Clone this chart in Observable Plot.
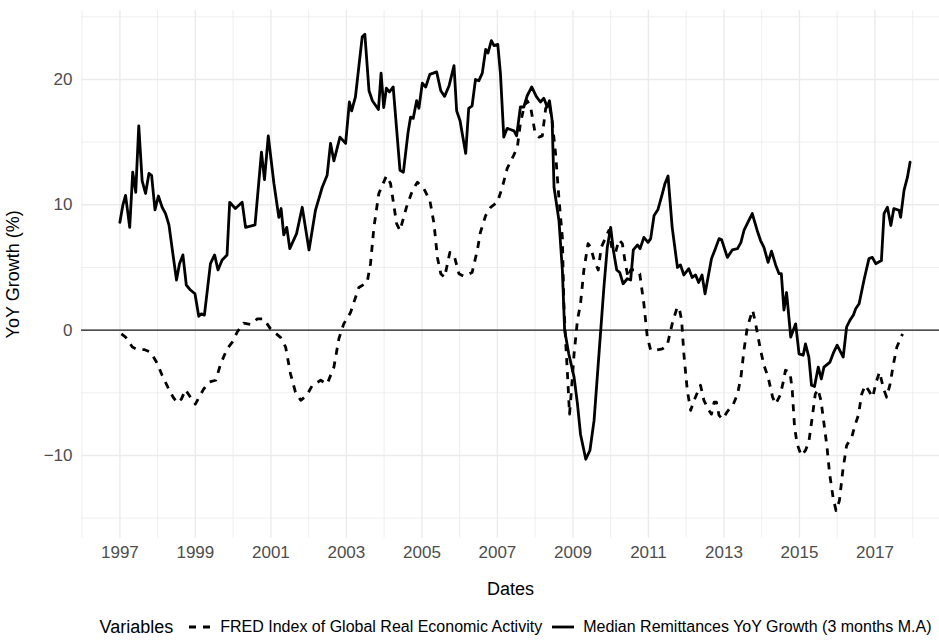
<!DOCTYPE html>
<html>
<head>
<meta charset="utf-8">
<script src="https://cdn.jsdelivr.net/npm/d3@7"></script>
<script src="https://cdn.jsdelivr.net/npm/@observablehq/plot@0.6"></script>
<style>
  html, body { margin: 0; padding: 0; background: #fff; overflow: hidden; }
  body { font-family: "Liberation Sans", Arial, Helvetica, sans-serif; }
  #legend { width: 939px; height: 43px; box-sizing: border-box; padding-left: 92px; padding-top: 16px;
            display: flex; justify-content: center; align-items: flex-start; color: #000; }
  #legend .title { font-size: 18px; margin-right: 16px; line-height: 22px; }
  #legend .item { display: flex; align-items: center; font-size: 16px; line-height: 22px; }
  #legend .item svg { margin-right: 9px; }
  #legend .item + .item { margin-left: 10px; }
</style>
</head>
<body>
<div id="chart"></div>
<div id="legend"></div>
<script>
// ---- Data (decimal years, % values) ----
const remitYears = [
  1997.00,1997.08,1997.15,1997.26,1997.34,1997.42,1997.50,1997.59,1997.68,1997.77,1997.84,1997.93,
  1998.02,1998.12,1998.21,1998.30,1998.39,1998.50,1998.58,1998.67,1998.76,1998.87,1998.99,
  1999.09,1999.16,1999.24,1999.40,1999.51,1999.60,1999.71,1999.84,1999.91,
  2000.06,2000.24,2000.33,2000.46,2000.58,2000.75,2000.83,2000.93,
  2001.08,2001.21,2001.27,2001.34,2001.42,2001.50,2001.68,2001.83,
  2002.01,2002.18,2002.36,2002.49,2002.58,2002.67,2002.83,2002.98,
  2003.08,2003.14,2003.24,2003.33,2003.42,2003.49,2003.60,2003.69,2003.85,2003.92,2003.99,
  2004.06,2004.14,2004.24,2004.42,2004.51,2004.63,2004.70,2004.77,2004.86,2004.92,
  2005.01,2005.10,2005.21,2005.39,2005.50,2005.60,2005.72,2005.85,2005.92,
  2006.01,2006.16,2006.24,2006.33,2006.42,2006.51,2006.60,2006.69,2006.75,2006.84,2006.91,
  2007.01,2007.08,2007.17,2007.26,2007.44,2007.51,2007.61,2007.70,2007.79,2007.91,
  2008.03,2008.14,2008.23,2008.32,2008.38,2008.45,2008.50,2008.63,2008.72,2008.78,2008.89,
  2009.03,2009.12,2009.20,2009.34,2009.45,2009.56,2009.69,2009.82,2009.91,
  2010.00,2010.07,2010.16,2010.24,2010.33,2010.44,2010.53,2010.60,2010.71,2010.78,2010.88,2010.99,
  2011.06,2011.15,2011.25,2011.37,2011.44,2011.52,2011.63,2011.77,2011.85,2011.94,
  2012.07,2012.16,2012.25,2012.33,2012.42,2012.50,2012.67,2012.76,2012.87,2012.94,
  2013.09,2013.22,2013.36,2013.45,2013.53,2013.66,2013.75,2013.88,2013.97,
  2014.06,2014.17,2014.26,2014.37,2014.46,2014.52,2014.59,2014.66,2014.77,2014.90,2014.99,
  2015.10,2015.16,2015.25,2015.32,2015.40,2015.50,2015.58,2015.65,2015.81,2015.91,
  2016.00,2016.16,2016.25,2016.34,2016.43,2016.49,2016.58,2016.71,2016.84,2016.93,
  2017.02,2017.17,2017.24,2017.33,2017.42,2017.50,2017.64,2017.68,2017.77,2017.86,2017.93
];
const remitValues = [
  8.6,10.0,10.75,8.2,12.6,11.0,16.3,11.9,10.9,12.5,12.35,9.6,
  10.7,9.8,9.3,8.4,6.4,4.0,5.3,6.0,3.6,3.2,2.9,
  1.1,1.3,1.2,5.3,6.0,4.8,5.6,6.0,10.2,
  9.7,10.2,8.2,8.3,8.4,14.2,12.0,15.5,
  11.7,9.0,9.7,7.6,8.2,6.5,7.7,9.8,
  6.4,9.55,11.4,12.35,14.9,13.5,15.4,14.9,
  18.2,17.5,18.6,21.0,23.4,23.6,19.1,18.3,17.6,20.5,17.75,
  19.3,19.0,19.4,12.75,12.6,15.7,17.0,16.9,18.3,17.7,
  19.7,19.4,20.4,20.6,19.1,18.65,19.5,21.1,17.5,
  16.7,14.1,17.7,17.9,20.0,19.9,20.5,22.4,22.1,23.1,22.7,
  22.8,20.5,15.4,16.1,15.9,15.5,17.8,17.8,18.7,19.4,
  18.65,18.2,18.5,17.8,18.3,16.7,11.4,8.75,4.8,0.0,-1.9,
  -3.75,-5.9,-8.3,-10.3,-9.6,-7.2,-1.9,3.4,6.6,
  8.2,6.4,4.8,4.6,3.7,4.1,4.0,6.4,6.8,6.5,7.4,7.0,
  7.3,9.15,9.6,10.9,11.7,12.3,8.2,5.0,5.2,4.4,
  4.9,4.2,4.4,3.8,4.4,2.9,5.7,6.4,7.3,7.2,
  5.8,6.4,6.5,7.0,7.95,8.75,9.3,7.95,7.15,
  6.6,5.4,6.3,5.2,4.5,4.5,1.6,3.0,-0.55,0.5,-1.9,
  -2.0,-1.1,-2.15,-4.4,-4.5,-2.95,-3.9,-2.95,-2.55,-1.75,
  -1.2,-2.15,0.25,0.8,1.2,1.7,2.1,4.0,5.7,5.8,
  5.3,5.55,9.3,9.8,8.35,9.7,9.55,9.0,11.15,12.2,13.4
];

const fredYears = [
  1997.04,1997.15,1997.33,1997.46,1997.64,1997.81,1997.97,
  1998.12,1998.27,1998.41,1998.52,1998.63,1998.74,1998.87,1999.00,
  1999.21,1999.36,1999.54,1999.67,1999.84,1999.98,
  2000.11,2000.28,2000.46,2000.64,2000.81,2000.99,
  2001.26,2001.39,2001.52,2001.65,2001.79,2001.95,
  2002.10,2002.32,2002.49,2002.67,2002.80,2002.93,
  2003.11,2003.33,2003.55,2003.64,2003.73,2003.86,
  2004.06,2004.17,2004.33,2004.42,2004.59,2004.75,2004.88,
  2005.05,2005.21,2005.32,2005.41,2005.50,2005.60,2005.74,2005.85,2005.98,
  2006.11,2006.33,2006.47,2006.55,2006.69,2006.82,
  2007.00,2007.13,2007.26,2007.44,2007.53,2007.61,2007.70,2007.79,2007.88,2007.99,
  2008.10,2008.19,2008.28,2008.37,2008.45,2008.54,2008.63,2008.72,2008.76,2008.81,2008.85,2008.91,2008.96,
  2009.03,2009.12,2009.20,2009.29,2009.40,2009.47,2009.56,2009.67,2009.75,2009.84,2009.95,
  2010.04,2010.13,2010.22,2010.31,2010.39,2010.46,2010.53,2010.66,2010.77,2010.88,2010.97,
  2011.06,2011.19,2011.37,2011.50,2011.63,2011.75,2011.81,2011.88,2011.94,
  2012.03,2012.12,2012.21,2012.38,2012.47,2012.60,2012.67,2012.74,2012.80,2012.87,2012.96,
  2013.09,2013.25,2013.36,2013.45,2013.53,2013.62,2013.76,2013.84,2013.97,
  2014.06,2014.17,2014.29,2014.37,2014.49,2014.57,2014.63,2014.75,2014.81,2014.87,2014.94,
  2015.05,2015.16,2015.25,2015.34,2015.42,2015.49,2015.57,2015.64,2015.73,2015.80,2015.89,2015.97,
  2016.06,2016.15,2016.25,2016.39,2016.47,2016.56,2016.65,2016.74,2016.83,2016.94,
  2017.03,2017.12,2017.23,2017.31,2017.40,2017.49,2017.58,2017.73
];
const fredValues = [
  -0.3,-0.55,-1.35,-1.55,-1.55,-1.75,-2.55,
  -3.6,-4.55,-5.35,-5.8,-5.5,-4.75,-5.35,-5.9,
  -4.75,-4.15,-4.0,-2.7,-1.5,-0.95,
  -0.15,0.55,0.45,0.9,0.9,0.1,
  -0.6,-1.35,-3.5,-4.95,-5.6,-5.2,
  -4.4,-4.0,-4.3,-2.95,-0.7,0.5,
  1.4,3.4,3.8,5.3,8.2,10.9,
  12.3,11.7,8.5,7.95,9.8,11.15,11.8,
  11.3,10.35,8.5,5.8,4.5,4.2,6.2,6.0,4.5,
  4.3,4.6,6.4,7.8,9.15,9.8,
  10.2,11.4,12.9,14.0,14.6,16.5,17.7,18.3,17.8,15.9,
  15.4,15.5,17.7,18.1,16.7,14.1,10.5,7.4,2.1,-1.1,-3.2,-6.7,-4.8,
  -1.9,0.8,2.1,4.8,6.9,6.6,5.6,4.8,6.6,7.2,7.95,
  6.4,6.2,7.2,6.9,5.3,4.2,4.8,4.8,4.5,2.1,-0.55,
  -1.6,-1.6,-1.5,-1.2,0.5,1.7,1.85,0.8,-1.9,
  -4.8,-6.4,-5.6,-4.4,-5.6,-6.4,-6.7,-5.75,-5.75,-6.8,-7.1,
  -6.5,-5.9,-5.1,-3.75,-1.6,0.25,1.6,0.5,-1.6,
  -2.8,-3.75,-5.35,-5.9,-5.2,-4.15,-3.2,-3.35,-4.8,-7.7,-9.1,
  -10.0,-9.6,-8.9,-6.95,-5.1,-4.7,-5.6,-7.2,-9.3,-11.45,-13.3,-14.4,
  -13.6,-11.2,-9.2,-8.5,-7.6,-6.8,-5.1,-4.4,-4.8,-5.35,
  -4.15,-3.35,-4.7,-5.35,-4.3,-2.7,-1.35,-0.3
];

const seriesNames = ["FRED Index of Global Real Economic Activity", "Median Remittances YoY Growth (3 months M.A)"];
const legendTitle = "Variables";
const xTitle = "Dates";
const yTitle = "YoY Growth (%)";
const xTickYears = [1997,1999,2001,2003,2005,2007,2009,2011,2013,2015,2017];
const xMinorYears = [1996,1998,2000,2002,2004,2006,2008,2010,2012,2014,2016,2018];
const yTicks = [-10, 0, 10, 20];
const yMinorTicks = [-15, -5, 5, 15, 25];
const xDomainYears = [1995.985, 2018.71];
const yDomain = [-16.6, 25.5];

// ---- helpers ----
function toDate(y) {
  const yr = Math.floor(y);
  const s = Date.UTC(yr, 0, 1), e = Date.UTC(yr + 1, 0, 1);
  return new Date(s + (y - yr) * (e - s));
}
const remit = remitYears.map((y, i) => ({date: toDate(y), value: remitValues[i]}));
const fred = fredYears.map((y, i) => ({date: toDate(y), value: fredValues[i]}));

const FONT = '"Liberation Sans", Arial, Helvetica, sans-serif';
const grid = "#EBEBEB";

const chart = Plot.plot({
  width: 939,
  height: 600,
  marginLeft: 81,
  marginRight: 0,
  marginTop: 10,
  marginBottom: 62.3,
  style: {fontFamily: FONT, fontSize: "17px", background: "white", color: "#4D4D4D"},
  x: {type: "utc", domain: xDomainYears.map(toDate), axis: null},
  y: {domain: yDomain, axis: null},
  marks: [
    Plot.ruleX(xMinorYears.map(toDate), {stroke: grid, strokeWidth: 0.8}),
    Plot.ruleX(xTickYears.map(toDate), {stroke: grid, strokeWidth: 1.4}),
    Plot.ruleY(yMinorTicks, {stroke: grid, strokeWidth: 0.8}),
    Plot.ruleY(yTicks, {stroke: grid, strokeWidth: 1.4}),
    Plot.axisX(xTickYears.map(toDate), {tickSize: 0, tickPadding: 8, tickFormat: d3.utcFormat("%Y"),
      fontSize: 17, fill: "#4D4D4D", label: null}),
    Plot.axisY(yTicks, {tickSize: 0, tickPadding: 9, tickFormat: d => d < 0 ? "\u2212" + Math.abs(d) : String(d),
      fontSize: 17, fill: "#4D4D4D", label: null}),
    Plot.ruleY([0], {stroke: "#1a1a1a", strokeWidth: 1.3}),
    Plot.line(fred, {x: "date", y: "value", stroke: "black", strokeWidth: 2.8,
      strokeDasharray: "7,7", strokeLinecap: "butt"}),
    Plot.line(remit, {x: "date", y: "value", stroke: "black", strokeWidth: 2.8}),
    Plot.text([xTitle], {text: d => d, frameAnchor: "bottom", lineAnchor: "middle", dy: 51,
      fontSize: 18, fill: "black"}),
    Plot.text([yTitle], {text: d => d, frameAnchor: "left", textAnchor: "middle", lineAnchor: "middle",
      rotate: -90, dx: -68, fontSize: 18, fill: "black"})
  ]
});
document.getElementById("chart").appendChild(chart);

// ---- legend ----
const legend = document.getElementById("legend");
const t = document.createElement("span");
t.className = "title";
t.textContent = legendTitle;
legend.appendChild(t);
seriesNames.forEach((name, i) => {
  const item = document.createElement("span");
  item.className = "item";
  const dash = i === 0 ? ' stroke-dasharray="7,7"' : "";
  item.innerHTML = `<svg width="22" height="12"><line x1="0" x2="22" y1="6" y2="6" stroke="black" stroke-width="2.8"${dash}/></svg>`;
  const s = document.createElement("span");
  s.textContent = name;
  item.appendChild(s);
  legend.appendChild(item);
});
</script>
</body>
</html>
